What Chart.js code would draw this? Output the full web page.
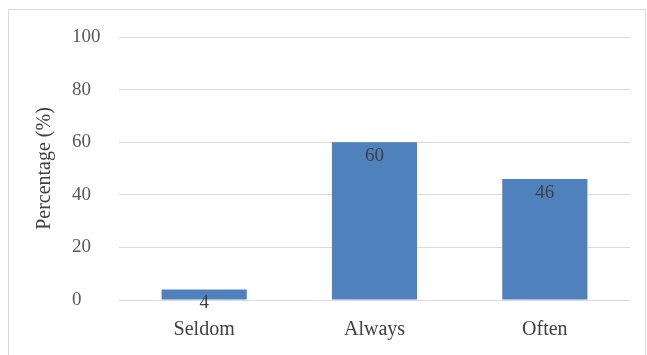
<!DOCTYPE html>
<html>
<head>
<meta charset="utf-8">
<script src="https://cdn.jsdelivr.net/npm/chart.js@4.4.1/dist/chart.umd.min.js"></script>
<style>
    html, body { margin: 0; padding: 0; background: #fff; }
    #frame {
        position: absolute; left: 8px; top: 9px;
        width: 638px; height: 360px;
        border: 1px solid #d9d9d9; box-sizing: border-box;
    }
    #wrap { position: absolute; left: 0; top: 0; width: 647px; height: 355px; }
</style>
</head>
<body>
<div id="frame"></div>
<div id="wrap"><canvas id="chart" width="647" height="355"></canvas></div>
<script>
const categories = ['Seldom', 'Always', 'Often'];
const percentages = [4, 60, 46];
const yTicks = [0, 20, 40, 60, 80, 100];

const serif = '"Liberation Serif", "Times New Roman", serif';

// labels drawn just under the top of each bar (Excel "inside end")
const barLabels = {
    id: 'barLabels',
    afterDatasetsDraw(chart) {
        const ctx = chart.ctx;
        const meta = chart.getDatasetMeta(0);
        ctx.save();
        ctx.font = '19px ' + serif;
        ctx.fillStyle = '#404040';
        ctx.textAlign = 'center';
        ctx.textBaseline = 'middle';
        meta.data.forEach((bar, i) => {
            ctx.fillText(String(percentages[i]), bar.x, bar.y + 14);
        });
        ctx.restore();
    }
};

new Chart(document.getElementById('chart').getContext('2d'), {
    type: 'bar',
    data: {
        labels: categories,
        datasets: [{
            data: percentages,
            yAxisID: 'y',
            xAxisID: 'x',
            backgroundColor: '#4f81bd',
            borderWidth: 0,
            categoryPercentage: 0.5,
            barPercentage: 1
        }]
    },
    options: {
        responsive: false,
        animation: false,
        layout: { padding: { top: 37, right: 17, bottom: 0, left: 0 } },
        plugins: {
            legend: { display: false },
            tooltip: { enabled: false }
        },
        scales: {
            yTitle: {
                type: 'linear',
                position: 'left',
                weight: 10,
                min: 0,
                max: 100,
                grid: { display: false, drawTicks: false },
                border: { display: false },
                ticks: { display: false },
                title: {
                    display: true,
                    text: 'Percentage (%)',
                    color: '#404040',
                    font: { family: serif, size: 20 },
                    padding: { top: 33, bottom: 0 }
                },
                afterFit: s => { s.width = 72; }
            },
            y: {
                position: 'left',
                weight: 0,
                min: 0,
                max: 100,
                afterBuildTicks: s => { s.ticks = yTicks.map(v => ({ value: v })); },
                grid: { color: '#d9d9d9', drawTicks: false },
                border: { display: false },
                ticks: {
                    crossAlign: 'far',
                    color: '#595959',
                    font: { family: serif, size: 19 }
                },
                afterFit: s => { s.width = 47; }
            },
            x: {
                grid: { display: false, drawTicks: false },
                border: { display: false },
                ticks: {
                    color: '#404040',
                    padding: 18,
                    font: { family: serif, size: 20 }
                },
                afterFit: s => { s.height = 55; }
            }
        }
    },
    plugins: [barLabels]
});
</script>
</body>
</html>
